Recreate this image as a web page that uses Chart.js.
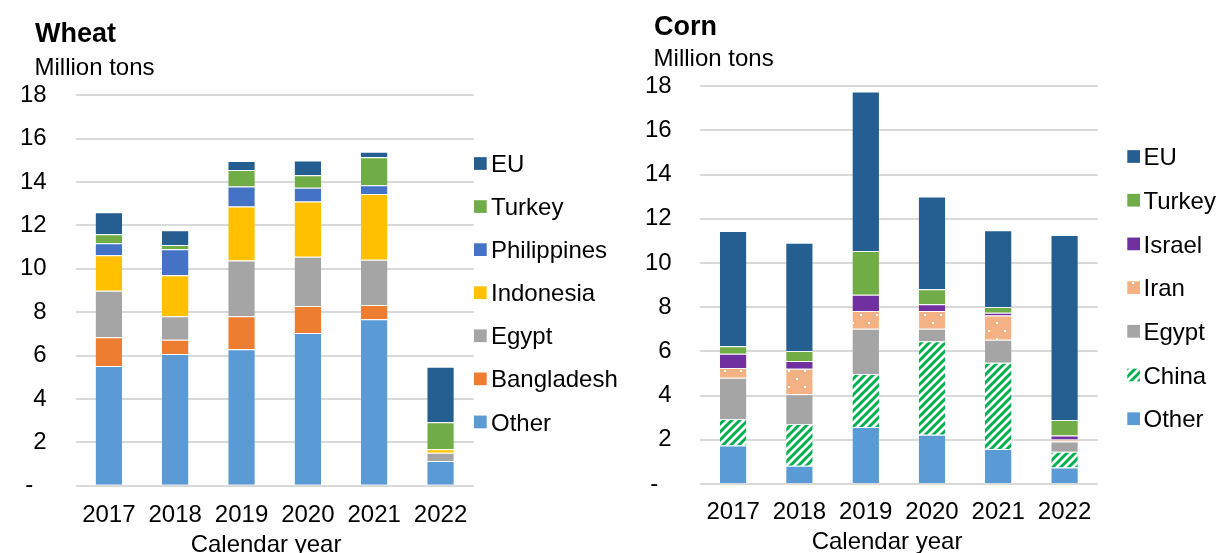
<!DOCTYPE html>
<html>
<head>
<meta charset="utf-8">
<script src="https://cdn.jsdelivr.net/npm/chart.js@4/dist/chart.umd.min.js"></script>
<style>
  html, body { margin: 0; padding: 0; background: #fff; }
  #wrap { position: relative; width: 1221px; height: 553px; }
  #wheat { position: absolute; left: 0; top: 0; }
  #corn { position: absolute; left: 640px; top: 0; }
</style>
</head>
<body>
<div id="wrap">
  <canvas id="wheat" width="640" height="553"></canvas>
  <canvas id="corn" width="581" height="553"></canvas>
</div>
<script>
// Calendar years on the category axis
const years = ['2017', '2018', '2019', '2020', '2021', '2022'];

// Wheat imports by origin, million tons (stack order bottom to top)
const wheatOther       = [5.52, 6.07, 6.29, 7.04, 7.67, 1.14];
const wheatBangladesh  = [1.32, 0.66, 1.52, 1.25, 0.66, 0.00];
const wheatEgypt       = [2.15, 1.08, 2.57, 2.27, 2.09, 0.38];
const wheatIndonesia   = [1.63, 1.89, 2.49, 2.54, 3.03, 0.16];
const wheatPhilippines = [0.56, 1.20, 0.92, 0.64, 0.40, 0.00];
const wheatTurkey      = [0.41, 0.20, 0.77, 0.57, 1.29, 1.24];
const wheatEU          = [1.02, 0.68, 0.41, 0.68, 0.26, 2.57];

// Corn imports by origin, million tons (stack order bottom to top)
const cornOther  = [1.74, 0.83, 2.58, 2.23, 1.58, 0.75];
const cornChina  = [1.20, 1.89, 2.40, 4.23, 3.91, 0.71];
const cornEgypt  = [1.87, 1.34, 2.05, 0.57, 1.04, 0.46];
const cornIran   = [0.44, 1.16, 0.80, 0.80, 1.10, 0.09];
const cornIsrael = [0.65, 0.35, 0.74, 0.30, 0.12, 0.18];
const cornTurkey = [0.33, 0.45, 1.98, 0.68, 0.26, 0.71];
const cornEU     = [5.22, 4.90, 7.21, 4.20, 3.47, 8.37];

// Y axis tick values
const yTicks = [0, 2, 4, 6, 8, 10, 12, 14, 16, 18];

const FONT = '"Liberation Sans", Arial, sans-serif';

// Fill patterns
function stripePattern() {
  const c = document.createElement('canvas');
  c.width = 8; c.height = 8;
  const g = c.getContext('2d');
  g.fillStyle = '#ffffff';
  g.fillRect(0, 0, 8, 8);
  g.strokeStyle = '#00B050';
  g.lineWidth = 3;
  g.beginPath();
  g.moveTo(-2, 10); g.lineTo(10, -2);
  g.moveTo(-6, 6); g.lineTo(6, -6);
  g.moveTo(2, 14); g.lineTo(14, 2);
  g.stroke();
  return g.createPattern(c, 'repeat');
}
function dotPattern() {
  const c = document.createElement('canvas');
  c.width = 16; c.height = 16;
  const g = c.getContext('2d');
  g.fillStyle = '#F4B183';
  g.fillRect(0, 0, 16, 16);
  g.fillStyle = '#ffffff';
  g.fillRect(4, 2, 2, 2);
  g.fillRect(12, 10, 2, 2);
  return g.createPattern(c, 'repeat');
}

// Titles, axis caption and side legend drawn on the chart canvas
const panelText = {
  id: 'panelText',
  afterDraw(chart, args, opts) {
    const ctx = chart.ctx;
    ctx.save();
    ctx.fillStyle = '#000';
    ctx.textBaseline = 'alphabetic';
    for (const t of opts.items) {
      ctx.font = t.font;
      ctx.textAlign = t.align || 'left';
      ctx.fillText(t.text, t.x, t.y);
    }
    const L = opts.legend;
    const ds = chart.data.datasets;
    let row = 0;
    for (let i = ds.length - 1; i >= 0; i--, row++) {
      const cy = L.top + row * L.step;
      ctx.fillStyle = ds[i].backgroundColor;
      ctx.fillRect(L.x, cy - L.box / 2, L.box, L.box);
      ctx.fillStyle = '#000';
      ctx.font = '24px ' + FONT;
      ctx.textAlign = 'left';
      ctx.fillText(ds[i].label, L.textX, cy + 8.6);
    }
    ctx.restore();
  }
};

function makeChart(id, datasets, geo) {
  const el = document.getElementById(id);
  return new Chart(el, {
    type: 'bar',
    data: {
      labels: years,
      datasets: datasets.map(d => ({
        label: d.label,
        data: d.data,
        backgroundColor: d.color,
        borderColor: 'rgba(255,255,255,0.75)',
        borderWidth: { top: 1, left: 0, right: 0, bottom: 0 },
        borderSkipped: false,
        categoryPercentage: 1,
        barPercentage: 0.4
      }))
    },
    options: {
      responsive: false,
      animation: false,
      devicePixelRatio: 1,
      layout: { padding: { left: 0, right: geo.padRight, top: geo.top, bottom: 0 } },
      plugins: {
        legend: { display: false },
        tooltip: { enabled: false },
        panelText: { items: geo.items, legend: geo.legend }
      },
      scales: {
        x: {
          stacked: true,
          grid: { display: false, drawTicks: false },
          border: { display: false },
          ticks: { color: '#000', font: { family: FONT, size: 24 }, padding: geo.xPad, maxRotation: 0, autoSkip: false },
          afterFit: s => { s.height = geo.xHeight; }
        },
        y: {
          stacked: true,
          min: 0,
          max: 18,
          afterBuildTicks: s => { s.ticks = yTicks.map(v => ({ value: v })); },
          grid: { color: '#d9d9d9', lineWidth: 2, drawTicks: false },
          border: { display: false },
          ticks: {
            color: '#000',
            font: { family: FONT, size: 24 },
            padding: geo.yPad,
            callback: v => (v === 0 ? '-  ' : String(v))
          },
          afterFit: s => { s.width = geo.yWidth; }
        }
      }
    },
    plugins: [panelText]
  });
}

makeChart('wheat', [
  { label: 'Other', data: wheatOther, color: '#5B9BD5' },
  { label: 'Bangladesh', data: wheatBangladesh, color: '#ED7D31' },
  { label: 'Egypt', data: wheatEgypt, color: '#A5A5A5' },
  { label: 'Indonesia', data: wheatIndonesia, color: '#FFC000' },
  { label: 'Philippines', data: wheatPhilippines, color: '#4472C4' },
  { label: 'Turkey', data: wheatTurkey, color: '#70AD47' },
  { label: 'EU', data: wheatEU, color: '#255E91' }
], {
  padRight: 166.3, top: 95.3, xHeight: 67.3, yWidth: 75.7, yPad: 29, xPad: 15,
  items: [
    { text: 'Wheat', x: 35, y: 41.7, font: 'bold 27px ' + FONT },
    { text: 'Million tons', x: 34.5, y: 75, font: '24px ' + FONT },
    { text: 'Calendar year', x: 266, y: 552, font: '24px ' + FONT, align: 'center' }
  ],
  legend: { x: 474, box: 12.7, textX: 491, top: 163.5, step: 43.07 }
});

makeChart('corn', [
  { label: 'Other', data: cornOther, color: '#5B9BD5' },
  { label: 'China', data: cornChina, color: stripePattern() },
  { label: 'Egypt', data: cornEgypt, color: '#A5A5A5' },
  { label: 'Iran', data: cornIran, color: dotPattern() },
  { label: 'Israel', data: cornIsrael, color: '#7030A0' },
  { label: 'Turkey', data: cornTurkey, color: '#70AD47' },
  { label: 'EU', data: cornEU, color: '#255E91' }
], {
  padRight: 123.3, top: 86.3, xHeight: 69, yWidth: 60, yPad: 28.3, xPad: 14,
  items: [
    { text: 'Corn', x: 14, y: 35, font: 'bold 27px ' + FONT },
    { text: 'Million tons', x: 13.6, y: 65.7, font: '24px ' + FONT },
    { text: 'Calendar year', x: 247, y: 549, font: '24px ' + FONT, align: 'center' }
  ],
  legend: { x: 487.3, box: 12.7, textX: 503.5, top: 156.5, step: 43.7 }
});
</script>
</body>
</html>
